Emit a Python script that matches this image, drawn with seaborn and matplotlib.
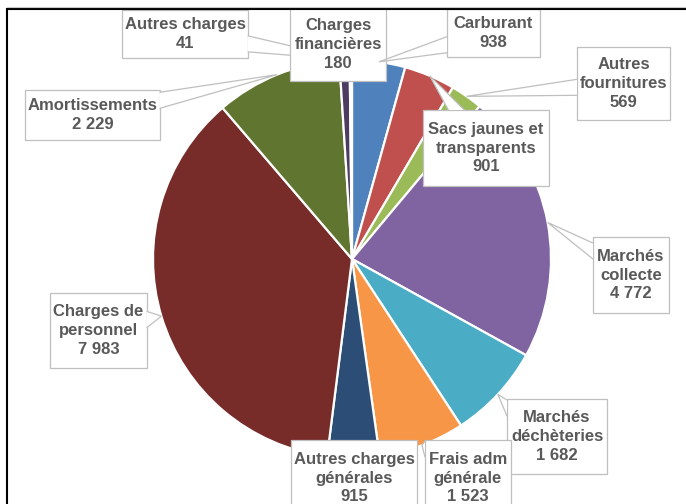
import matplotlib
matplotlib.use("Agg")
import matplotlib.pyplot as plt
from matplotlib.patches import Rectangle, Polygon
import seaborn as sns
import numpy as np

# ---- data ----
categories = ["Carburant", "Sacs jaunes et\ntransparents", "Autres\nfournitures",
              "Marchés\ncollecte", "Marchés\ndéchèteries", "Frais adm\ngénérale",
              "Autres charges\ngénérales", "Charges de\npersonnel", "Amortissements",
              "Charges\nfinancières", "Autres charges"]
values = [938, 901, 569, 4772, 1682, 1523, 915, 7983, 2229, 180, 41]
colors = ["#4F81BD", "#C0504D", "#9BBB59", "#8064A2", "#4BACC6", "#F79646",
          "#2C4D75", "#772C2A", "#5F7530", "#4D3B62", "#276A7C"]

# ---- layout: label boxes (left, top, right, bottom) in image pixels, y down ----
label_boxes = [(447, 9, 540, 57), (423, 110, 549, 186), (577, 47, 670, 120),
               (593, 237, 669, 313), (507, 399, 607, 474), (425, 440, 511, 516),
               (291, 440, 417, 516), (50, 293, 147, 368), (25, 90, 160, 140),
               (290, 8, 386, 81), (122, 10, 248, 58)]
callout = [True, True, True, True, True, True, False, True, True, False, True]
draw_order = [10, 8, 9, 0, 2, 1, 3, 4, 5, 6, 7]

W, H = 686, 504
sns.set_theme(style="white")
plt.rcParams["font.family"] = ["Liberation Sans", "DejaVu Sans"]

fig = plt.figure(figsize=(W / 100, H / 100), dpi=100)
ax = fig.add_axes([0, 0, 1, 1])

cx, cy, r = 352, H - 259, 199
wedges, _ = ax.pie(values, colors=colors, startangle=90, counterclock=False,
                   center=(cx, cy), radius=r, frame=True,
                   wedgeprops=dict(edgecolor="white", linewidth=1.6))
ax.set_xlim(0, W)
ax.set_ylim(0, H)
ax.set_aspect("equal")
ax.axis("off")


def fmt(v):
    return f"{v:,}".replace(",", " ")


edge_col = "#BFBFBF"
for k, i in enumerate(draw_order):
    z = 5 + k
    l, t, rr, b = label_boxes[i]
    yt, yb = H - t, H - b
    rect = Rectangle((l, yb), rr - l, yt - yb, fc="white", ec=edge_col, lw=0.9, zorder=z)
    ax.add_patch(rect)
    bx, by = (l + rr) / 2, (yt + yb) / 2
    ax.text(bx, by, f"{categories[i]}\n{fmt(values[i])}", ha="center", va="center",
            fontsize=12, fontweight="bold", color="#595959", linespacing=1.33,
            zorder=z + 0.5)
    if callout[i]:
        w = wedges[i]
        mid = np.deg2rad((w.theta1 + w.theta2) / 2)
        axp = np.array([cx + r * np.cos(mid), cy + r * np.sin(mid)])
        d = axp - np.array([bx, by])
        ts = []
        if d[0] != 0:
            ts.append((((rr if d[0] > 0 else l) - bx) / d[0], "v"))
        if d[1] != 0:
            ts.append((((yt if d[1] > 0 else yb) - by) / d[1], "h"))
        tmin, kind = min(ts)
        hx, hy = bx + d[0] * tmin, by + d[1] * tmin
        hw = 8
        if kind == "v":
            y1 = np.clip(hy - hw, yb + 1, yt - 1 - 2 * hw)
            b1, b2 = (hx, y1), (hx, y1 + 2 * hw)
        else:
            x1 = np.clip(hx - hw, l + 1, rr - 1 - 2 * hw)
            b1, b2 = (x1, hy), (x1 + 2 * hw, hy)
        ax.add_patch(Polygon([b1, tuple(axp), b2], closed=True, fc="white", ec="none",
                             zorder=z + 0.2))
        ax.plot([b1[0], axp[0], b2[0]], [b1[1], axp[1], b2[1]], color=edge_col,
                lw=0.9, zorder=z + 0.3, solid_joinstyle="miter")

# outer frame (cropped chart border)
ax.plot([7, 7, W], [0, H - 9, H - 9], color="black", lw=1.5, zorder=40,
        solid_joinstyle="miter")
ax.plot([7, W], [H - 7, H - 7], color="#C8C8C8", lw=0.8, zorder=40)

fig.savefig("out.png", dpi=100)
